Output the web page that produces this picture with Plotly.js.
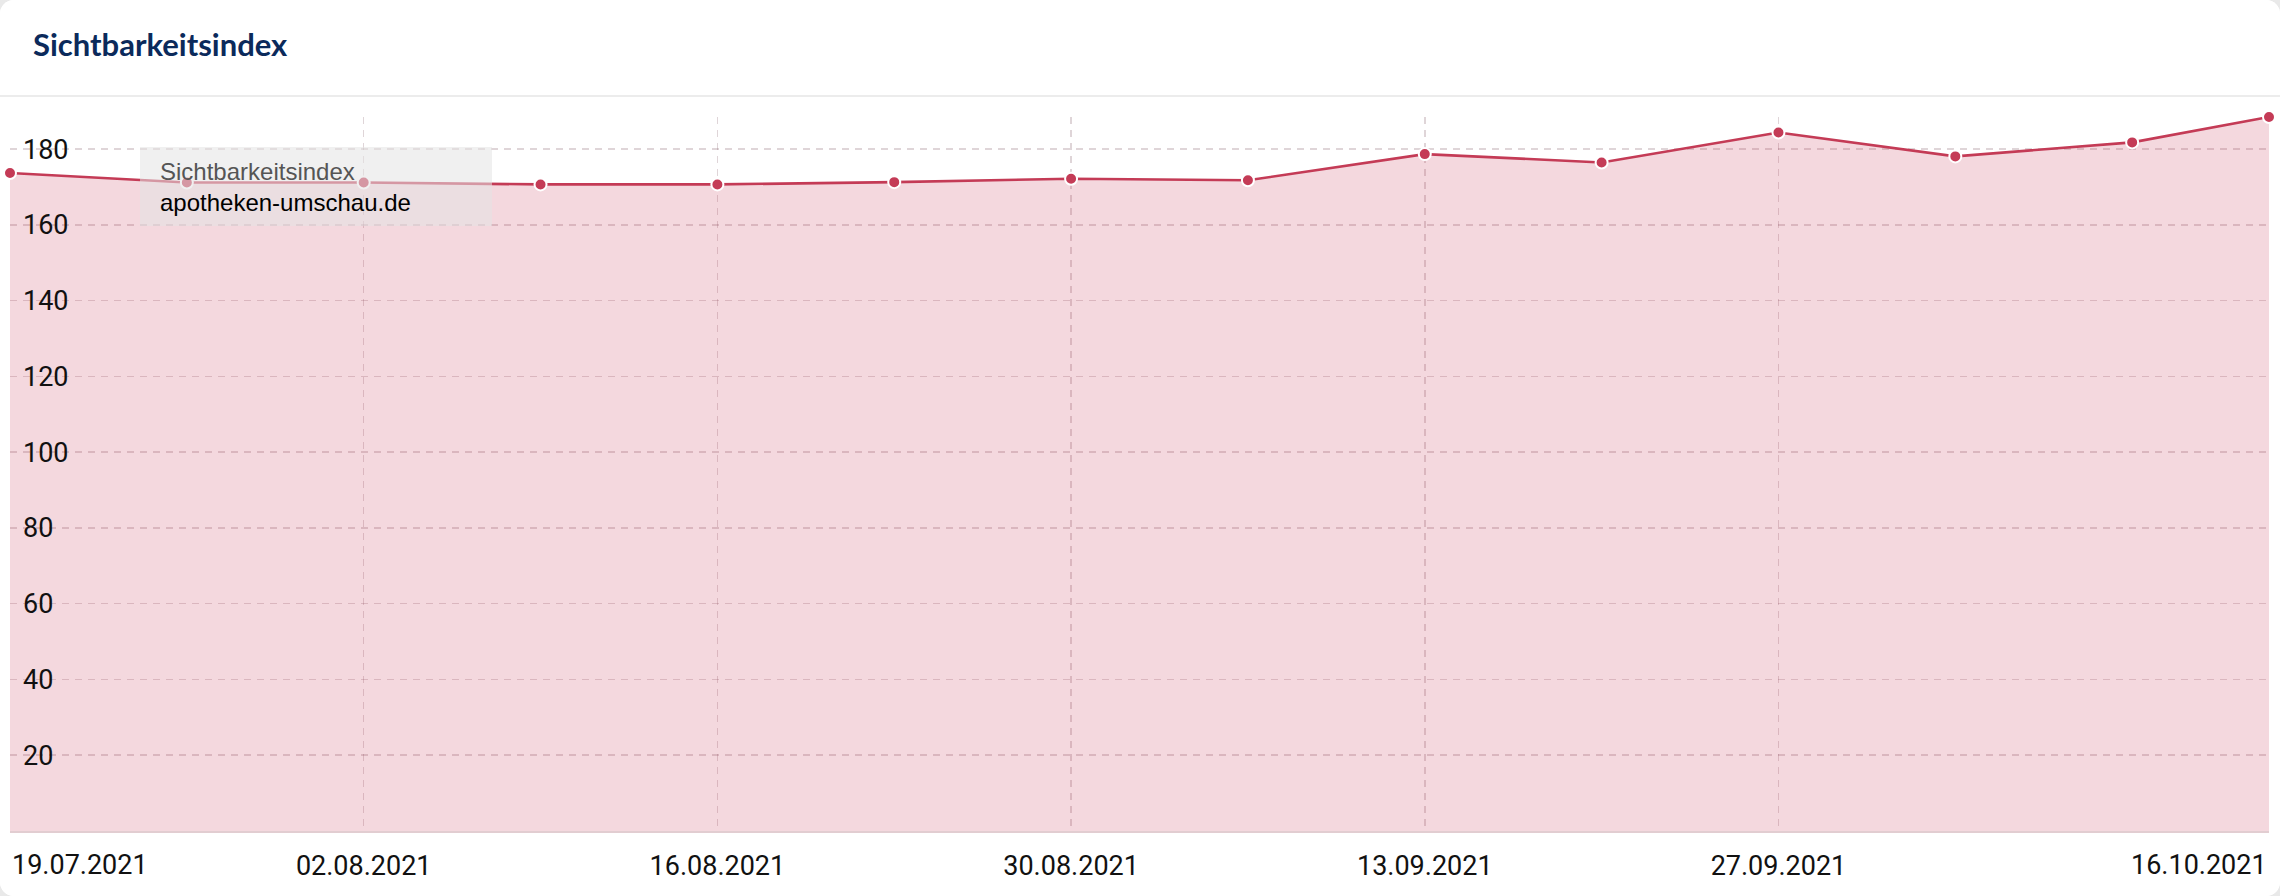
<!DOCTYPE html>
<html>
<head>
<meta charset="utf-8">
<script src="https://cdn.plot.ly/plotly-3.0.1.min.js"></script>
<style>
  html, body { margin: 0; padding: 0; background: #e9e9e9; }
  #card { width: 2280px; height: 896px; border-radius: 14px; overflow: hidden; background: #fff; }
</style>
</head>
<body>
<div id="card"></div>
<script>
// ---- data ----
const dates = ['2021-07-19','2021-07-26','2021-08-02','2021-08-09','2021-08-16','2021-08-23','2021-08-30',
               '2021-09-06','2021-09-13','2021-09-20','2021-09-27','2021-10-04','2021-10-11','2021-10-16 10:00'];
const sichtbarkeitsindex = [173.7, 171.2, 171.2, 170.7, 170.7, 171.3, 172.2, 171.8, 178.7, 176.5, 184.4, 178.1, 181.8, 188.5];
const tickDates = ['2021-07-19','2021-08-02','2021-08-16','2021-08-30','2021-09-13','2021-09-27','2021-10-16 10:00'];
const tickLabels = ['19.07.2021','02.08.2021','16.08.2021','30.08.2021','13.09.2021','27.09.2021','16.10.2021'];
const yTicks = [20, 40, 60, 80, 100, 120, 140, 160, 180];
const chartTitle = 'Sichtbarkeitsindex';
const legendMetric = 'Sichtbarkeitsindex';
const legendDomain = 'apotheken-umschau.de';

// ---- layout helpers ----
const W = 2280, H = 896;
const M = {l: 10, r: 11, t: 117, b: 65};
const PW = W - M.l - M.r, PH = H - M.t - M.b;
const px = x => (x - M.l) / PW;
const py = y => (H - M.b - y) / PH;

const red = '#c43b56';
const gridColor = 'rgba(120,80,90,0.24)';
const tickFont = {family: 'Roboto', size: 27, color: '#111111'};

const trace = {
  x: dates,
  y: sichtbarkeitsindex,
  type: 'scatter',
  mode: 'lines+markers',
  line: {color: red, width: 2.6},
  marker: {color: red, size: 12, line: {color: '#ffffff', width: 2}},
  fill: 'tozeroy',
  fillcolor: 'rgba(200,60,88,0.2)',
  cliponaxis: false,
  hoverinfo: 'skip'
};

const midText = tickLabels.map((t, i) => (i === 0 || i === tickLabels.length - 1) ? '' : t);

const layout = {
  width: W, height: H,
  margin: M,
  paper_bgcolor: '#ffffff',
  plot_bgcolor: 'rgba(0,0,0,0)',
  showlegend: false,
  hovermode: false,
  title: {
    text: chartTitle,
    font: {family: 'Lato', size: 31, color: '#0b2a5b', weight: 700},
    xref: 'container', x: 33 / W, xanchor: 'left',
    yref: 'container', y: 1 - 45 / H, yanchor: 'middle'
  },
  xaxis: {
    type: 'date',
    range: [dates[0], dates[dates.length - 1]],
    tickmode: 'array',
    tickvals: tickDates,
    ticktext: midText,
    tickfont: tickFont,
    showgrid: true,
    gridcolor: gridColor,
    griddash: '7px,6px',
    gridwidth: 1.5,
    showline: true,
    linecolor: '#e2cdd1',
    linewidth: 1.5,
    zeroline: false,
    ticks: '',
    ticklabelstandoff: 10
  },
  yaxis: {
    range: [0, Math.max(...sichtbarkeitsindex)],
    tickmode: 'array',
    tickvals: yTicks,
    tickfont: tickFont,
    ticklabelposition: 'inside',
    ticklabelstandoff: 10,
    showgrid: true,
    gridcolor: gridColor,
    griddash: '7px,6px',
    gridwidth: 1.5,
    zeroline: false,
    showline: false,
    ticks: ''
  },
  shapes: [
    {type: 'line', xref: 'paper', yref: 'paper', x0: px(0), x1: px(W), y0: py(96), y1: py(96),
     line: {color: '#ececec', width: 2}},
    {type: 'rect', xref: 'paper', yref: 'paper', x0: px(140), x1: px(492), y0: py(147), y1: py(226),
     fillcolor: 'rgba(228,228,228,0.55)', line: {width: 0}, layer: 'above'}
  ],
  annotations: [
    {xref: 'x', x: tickDates[0], xanchor: 'left', yref: 'paper', y: 0, yanchor: 'middle', yshift: -34,
     text: tickLabels[0], showarrow: false, font: tickFont},
    {xref: 'x', x: tickDates[tickDates.length - 1], xanchor: 'right', yref: 'paper', y: 0, yanchor: 'middle', yshift: -34,
     text: tickLabels[tickLabels.length - 1], showarrow: false, font: tickFont},
    {xref: 'paper', yref: 'paper', x: px(158), y: py(187), xanchor: 'left', yanchor: 'middle', align: 'left',
     text: '<span style="color:#555555">' + legendMetric + '</span><br>' + legendDomain,
     showarrow: false, font: {family: 'Liberation Sans', size: 24, color: '#000000'}}
  ]
};

Plotly.newPlot('card', [trace], layout, {displayModeBar: false, staticPlot: true});
</script>
</body>
</html>
